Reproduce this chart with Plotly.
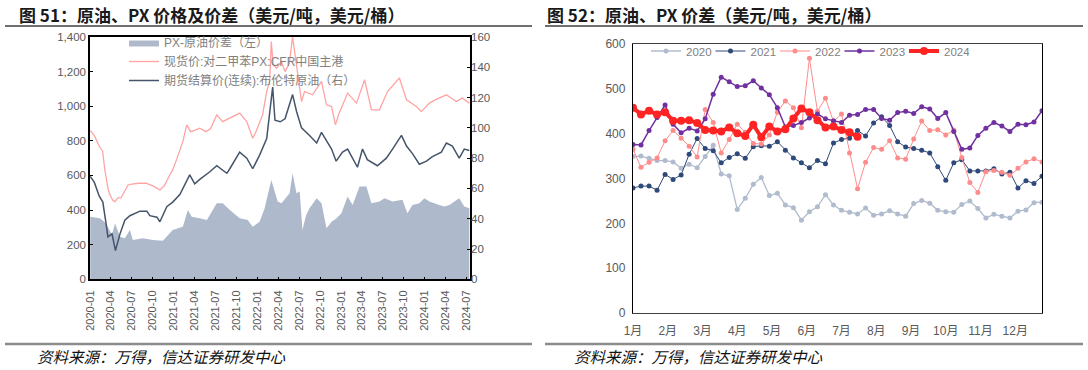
import plotly.graph_objects as go

# ---------------- Left chart data (图 51) ----------------
px_dates = ["2020-01-02","2020-01-20","2020-02-10","2020-02-25","2020-03-06","2020-03-20","2020-03-28",
            "2020-04-10","2020-04-19","2020-05-01","2020-05-15","2020-06-01","2020-06-15","2020-07-01",
            "2020-08-01","2020-09-01","2020-10-01","2020-11-01","2020-11-20","2020-12-14","2020-12-27",
            "2021-01-15","2021-02-10","2021-02-26","2021-03-15","2021-04-01","2021-04-24","2021-05-20",
            "2021-06-10","2021-07-07","2021-08-02","2021-09-01","2021-10-15","2021-11-15","2021-12-11",
            "2021-12-25","2022-01-23","2022-02-10","2022-02-23","2022-03-02","2022-03-10","2022-03-25",
            "2022-04-15","2022-05-01","2022-05-20","2022-06-03","2022-06-15","2022-07-12","2022-07-25",
            "2022-08-29","2022-10-07","2022-10-29","2022-11-20","2022-12-07","2022-12-20","2023-01-29",
            "2023-03-09","2023-04-13","2023-05-13","2023-06-17","2023-07-22","2023-09-12","2023-10-13",
            "2023-11-25","2023-12-17","2024-01-21","2024-02-15","2024-04-04","2024-05-17","2024-06-12",
            "2024-07-13"]
px_values = [860,830,770,740,630,520,488,
             455,449,470,470,507,545,550,
             555,555,540,516,540,603,632,
             700,800,892,853,860,873,853,
             870,950,911,931,960,911,815,
             853,950,1085,1143,1374,1240,1220,
             1258,1200,1250,1400,1278,1027,1085,
             1066,1143,1008,998,892,950,1076,
             1018,1153,979,979,1085,1163,1037,
             998,969,1018,1037,1066,1027,1047,
             1018]

brent_dates = ["2020-01-02","2020-01-20","2020-02-10","2020-02-26","2020-03-11","2020-03-19","2020-04-06",
               "2020-04-21","2020-05-11","2020-06-01","2020-06-23","2020-08-06","2020-09-05","2020-09-18",
               "2020-10-19","2020-11-01","2020-12-01","2020-12-27","2021-01-27","2021-02-26","2021-03-11",
               "2021-04-02","2021-04-24","2021-06-07","2021-07-07","2021-08-20","2021-09-02","2021-10-15",
               "2021-11-15","2021-12-11","2022-01-10","2022-02-10","2022-03-08","2022-03-18","2022-04-10",
               "2022-05-01","2022-06-03","2022-06-20","2022-07-12","2022-08-16","2022-09-16","2022-10-07",
               "2022-11-20","2022-12-10","2023-01-07","2023-01-29","2023-03-13","2023-04-04","2023-04-25",
               "2023-06-08","2023-07-17","2023-08-13","2023-09-21","2023-10-13","2023-11-08","2023-12-08",
               "2024-01-08","2024-02-03","2024-03-13","2024-04-04","2024-04-30","2024-05-30","2024-06-21",
               "2024-07-13"]
brent_values = [68,64,55,51,37,28,30,
                19,30,39,42,45,45,42,
                41,38,48,51,56,65,69,
                63,66,71,75,70,73,84,
                80,73,82,93,127,105,104,
                106,122,111,100,95,90,97,
                86,78,84,86,74,86,79,
                75,80,86,95,88,83,76,
                78,81,84,90,88,80,86,
                85]

spread_dates = ["2020-01-02","2020-02-13","2020-03-11","2020-04-06","2020-04-19","2020-05-11","2020-06-01",
                "2020-06-23","2020-07-06","2020-08-19","2020-10-01","2020-11-14","2020-12-27","2021-02-09",
                "2021-03-03","2021-03-20","2021-04-24","2021-05-25","2021-07-07","2021-08-02","2021-09-02",
                "2021-10-15","2021-11-19","2021-12-11","2022-01-10","2022-02-01","2022-03-02","2022-03-30",
                "2022-04-15","2022-05-21","2022-06-03","2022-06-20","2022-07-04","2022-07-16","2022-08-01",
                "2022-08-16","2022-09-16","2022-10-07","2022-10-29","2022-11-20","2022-12-12","2023-01-02",
                "2023-01-29","2023-02-20","2023-03-22","2023-04-21","2023-05-13","2023-06-17","2023-07-09",
                "2023-08-13","2023-09-25","2023-10-17","2023-11-08","2023-12-08","2023-12-30","2024-01-21",
                "2024-03-04","2024-03-26","2024-04-17","2024-05-30","2024-06-21","2024-07-13"]
spread_values = [362,353,324,256,324,246,237,
                 285,227,237,227,223,285,304,
                 401,362,353,343,440,440,401,
                 353,343,304,333,411,574,449,
                 440,497,613,497,507,285,372,
                 411,468,440,295,333,353,382,
                 478,430,536,536,440,449,468,
                 449,459,382,430,440,468,449,
                 430,420,430,468,420,411]

left_xticks = ["2020-01","2020-04","2020-07","2020-10","2021-01","2021-04","2021-07","2021-10",
               "2022-01","2022-04","2022-07","2022-10","2023-01","2023-04","2023-07","2023-10",
               "2024-01","2024-04","2024-07"]

# ---------------- Right chart data (图 52) ----------------
months = ["1月","2月","3月","4月","5月","6月","7月","8月","9月","10月","11月","12月"]
weeks = list(range(52))
y2020 = [349,350,345,340,340,337,323,332,324,349,374,310,306,231,256,287,302,262,267,241,235,207,226,237,
         264,241,229,225,221,234,218,221,228,221,216,244,251,245,229,226,225,242,250,233,212,220,216,212,
         227,230,246,247]
y2021 = [279,283,283,274,309,298,308,354,389,367,362,335,347,355,345,371,373,372,382,363,346,335,324,340,
         333,379,387,390,407,395,424,438,418,382,370,367,363,357,326,296,335,342,317,317,317,322,310,314,
         279,295,289,305]
y2022 = [365,325,336,346,384,407,390,372,348,454,425,357,387,421,403,378,377,397,448,473,458,413,568,450,
         479,427,444,357,277,336,369,365,384,346,343,388,428,407,409,397,408,347,291,269,315,318,314,307,
         323,337,344,337]
y2023 = [376,375,407,436,464,421,402,412,406,433,488,526,516,505,507,518,502,487,458,415,418,425,435,444,
         433,429,425,441,443,454,454,434,430,447,450,445,460,455,434,447,405,365,368,396,412,425,417,405,
         421,420,426,451]
y2024 = [458,443,451,443,448,429,429,430,424,408,407,405,414,401,395,420,392,416,405,410,434,456,448,430,
         414,416,408,403,393]

FONT = 'Liberation Sans, "Noto Sans CJK SC", sans-serif'
TICKC = "#595959"

fig = go.Figure()

# Left chart traces
fig.add_trace(go.Scatter(x=spread_dates, y=spread_values, name="PX-原油价差（左）", mode="lines",
                         fill="tozeroy", line=dict(width=0, color="#aeb9cb"), fillcolor="#aeb9cb",
                         xaxis="x", yaxis="y", legend="legend"))
fig.add_trace(go.Scatter(x=px_dates, y=px_values, name="现货价:对二甲苯PX:CFR中国主港", mode="lines",
                         line=dict(width=1.3, color="#ffa3a3"), xaxis="x", yaxis="y", legend="legend"))
fig.add_trace(go.Scatter(x=brent_dates, y=brent_values, name="期货结算价(连续):布伦特原油（右）", mode="lines",
                         line=dict(width=1.5, color="#44546a"), xaxis="x", yaxis="y2", legend="legend"))

# Right chart traces
series = [("2020", y2020, "#b0bccd", 1.3, 5),
          ("2021", y2021, "#2f4a7a", 1.0, 5),
          ("2022", y2022, "#ff8c8c", 1.0, 5),
          ("2023", y2023, "#7030a0", 1.5, 5),
          ("2024", y2024, "#ff2424", 4.0, 8)]
for name, vals, col, lw, ms in series:
    fig.add_trace(go.Scatter(x=weeks[:len(vals)], y=vals, name=name, mode="lines+markers",
                             line=dict(width=lw, color=col), marker=dict(size=ms, color=col),
                             xaxis="x3", yaxis="y3", legend="legend2"))

W, H = 1088, 370
def px_x(v): return v / W
def px_y(v): return 1 - v / H

fig.update_layout(
    template="none",
    width=W, height=H, margin=dict(l=0, r=0, t=0, b=0, autoexpand=False),
    paper_bgcolor="white", plot_bgcolor="white",
    font=dict(family=FONT, size=11, color=TICKC),
    xaxis=dict(domain=[px_x(90), px_x(470)], type="date", range=["2020-01-01", "2024-07-16"],
               tickvals=left_xticks, tickformat="%Y-%m", tickangle=-90, ticks="inside", ticklen=3,
               tickcolor="black", showline=True, linecolor="black", linewidth=1.5, mirror=True,
               showgrid=False, zeroline=False, anchor="y", automargin=False, ticklabelstandoff=5,
               tickfont=dict(size=11, color=TICKC)),
    yaxis=dict(domain=[px_y(279.3), px_y(37)], range=[0, 1400], dtick=200, tickformat=",d",
               ticks="inside", ticklen=3, tickcolor="black", showline=True, linecolor="black",
               linewidth=1.5, mirror=True, showgrid=False, zeroline=False, anchor="x", automargin=False,
               tickfont=dict(size=11.5, color=TICKC)),
    yaxis2=dict(domain=[px_y(279.3), px_y(37)], range=[0, 160], dtick=20, overlaying="y", side="right",
                anchor="x", ticks="inside", ticklen=3, tickcolor="black", showline=False,
                showgrid=False, zeroline=False, automargin=False, tickfont=dict(size=11.5, color=TICKC)),
    xaxis3=dict(domain=[px_x(633), px_x(1042)], range=[0, 51],
                tickvals=[i * 52 / 12 for i in range(12)], ticktext=months, ticks="",
                showline=True, linecolor="#404040", linewidth=1.3, mirror=True, showgrid=False,
                zeroline=False, anchor="y3", automargin=False, ticklabelstandoff=6,
                tickfont=dict(size=12, color=TICKC)),
    yaxis3=dict(domain=[px_y(313), px_y(44)], range=[0, 600], dtick=100, ticks="",
                showline=True, linecolor="black", linewidth=1.3, mirror=True, showgrid=False,
                zeroline=False, anchor="x3", automargin=False, ticklabelstandoff=4,
                tickfont=dict(size=12, color=TICKC)),
    legend=dict(x=px_x(124), y=px_y(28), xanchor="left", yanchor="top", bgcolor="rgba(0,0,0,0)",
                font=dict(size=12, color="#7f7f7f"), itemwidth=30, tracegroupgap=0),
    legend2=dict(orientation="h", x=px_x(646), y=px_y(51), xanchor="left", yanchor="middle",
                 bgcolor="rgba(0,0,0,0)", font=dict(size=11.5, color="#7f7f7f"), itemwidth=30,
                 entrywidth=19.5, entrywidthmode="pixels"),
    showlegend=True,
)

# Titles
fig.add_annotation(text="<b>图 51：原油、PX 价格及价差（美元/吨，美元/桶）</b>", x=px_x(17), y=px_y(14),
                   xref="paper", yref="paper", xanchor="left", yanchor="middle", showarrow=False,
                   font=dict(size=17, color="#1a1a1a", family='"Noto Sans CJK SC", sans-serif'))
fig.add_annotation(text="<b>图 52：原油、PX 价差（美元/吨，美元/桶）</b>", x=px_x(545), y=px_y(14),
                   xref="paper", yref="paper", xanchor="left", yanchor="middle", showarrow=False,
                   font=dict(size=17, color="#1a1a1a", family='"Noto Sans CJK SC", sans-serif'))
# Sources
for xs in (35, 572):
    fig.add_annotation(text="资料来源：万得，信达证券研发中心", x=px_x(xs), y=px_y(356),
                       xref="paper", yref="paper", xanchor="left", yanchor="middle", showarrow=False,
                       font=dict(size=15.5, color="#111111", family='"Noto Sans CJK SC", sans-serif',
                                 style="italic"))

# Separator lines
shapes = []
for x0, x1 in ((5, 532), (545, 1083)):
    shapes.append(dict(type="line", xref="paper", yref="paper", x0=px_x(x0), x1=px_x(x1),
                       y0=px_y(26), y1=px_y(26), line=dict(color="#404040", width=1.5)))
    shapes.append(dict(type="line", xref="paper", yref="paper", x0=px_x(x0), x1=px_x(x1),
                       y0=px_y(344), y1=px_y(344), line=dict(color="#8c8c8c", width=2.5)))
fig.update_layout(shapes=shapes)

fig.write_html("out.html", config={"displayModeBar": False},
               post_script="document.body.style.margin='0';document.body.style.padding='0';")
